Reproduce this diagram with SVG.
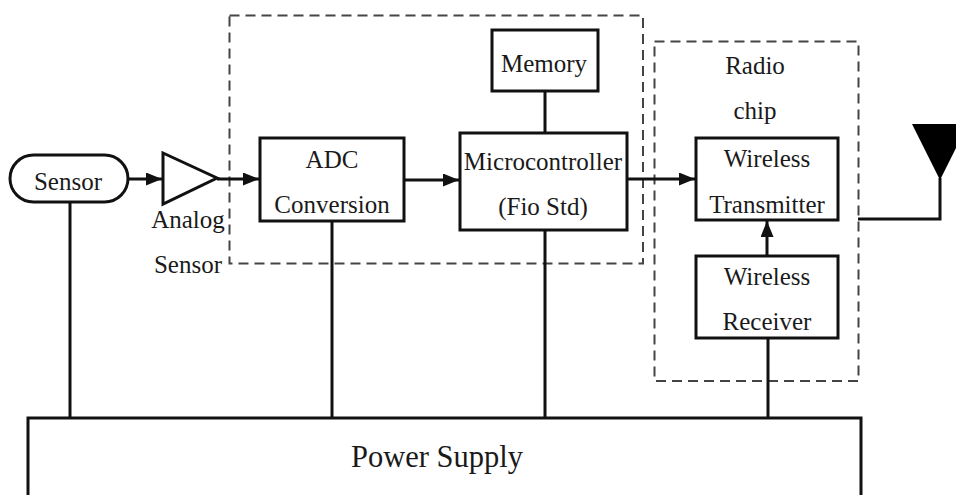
<svg xmlns="http://www.w3.org/2000/svg" width="956" height="495" viewBox="0 0 956 495">
<style>
text{font-family:"Liberation Serif","Times New Roman",serif;font-size:25px;fill:#1a1a1a;text-anchor:middle}
.box{fill:#fff;stroke:#111;stroke-width:3}
.line{fill:none;stroke:#111;stroke-width:3}
.dash{fill:none;stroke:#444;stroke-width:2;stroke-dasharray:10 6}
</style>
<defs><marker id="arr" markerUnits="userSpaceOnUse" markerWidth="18" markerHeight="14" refX="16" refY="6.5" orient="auto"><path d="M0 0L16 6.500L0 13Z" fill="#111"/></marker></defs>
<rect width="956" height="495" fill="#fff"/>
<g id="regions">
<rect class="dash" x="229.500" y="15.500" width="413.500" height="248"/>
<rect class="dash" x="654.500" y="41.500" width="204" height="339.500"/>
</g>
<g id="connectors">
<path class="line" d="M70 202V417"/>
<path class="line" d="M332 220V417"/>
<path class="line" d="M545 230V417"/>
<path class="line" d="M768 338V417"/>
<path class="line" d="M545 91V133"/>
<path class="line" d="M128 179H162" marker-end="url(#arr)"/>
<path class="line" d="M217 179H259" marker-end="url(#arr)"/>
<path class="line" d="M404 180H459" marker-end="url(#arr)"/>
<path class="line" d="M628 179H695" marker-end="url(#arr)"/>
<path class="line" d="M767 256V221" marker-end="url(#arr)"/>
<path class="line" d="M858 219H940V178"/>
</g>
<g id="sensor"><rect class="box" x="10" y="155" width="118" height="47" rx="23.500"/><text x="68" y="190">Sensor</text></g>
<g id="amp"><path class="box" d="M163 153L217 178L163 204Z"/><text x="188" y="228">Analog</text><text x="188" y="273">Sensor</text></g>
<g id="adc"><rect class="box" x="260" y="138" width="144" height="83"/><text x="332" y="168">ADC</text><text x="332" y="213">Conversion</text></g>
<g id="memory"><rect class="box" x="492" y="30" width="106" height="61"/><text x="544" y="72">Memory</text></g>
<g id="mcu"><rect class="box" x="460" y="133" width="167" height="97"/><text x="543" y="170">Microcontroller</text><text x="543" y="215">(Fio Std)</text></g>
<g id="radio"><text x="755" y="74">Radio</text><text x="755" y="119">chip</text></g>
<g id="tx"><rect class="box" x="696" y="138" width="142" height="82"/><text x="767" y="167">Wireless</text><text x="767" y="213">Transmitter</text></g>
<g id="rx"><rect class="box" x="696" y="256" width="142" height="82"/><text x="767" y="285">Wireless</text><text x="767" y="330">Receiver</text></g>
<g id="antenna"><path d="M912 124H968L940 180Z" fill="#000"/></g>
<g id="power"><path class="box" d="M28 495V418H861V495"/><text x="437" y="467" style="font-size:30.500px">Power Supply</text></g>
</svg>
